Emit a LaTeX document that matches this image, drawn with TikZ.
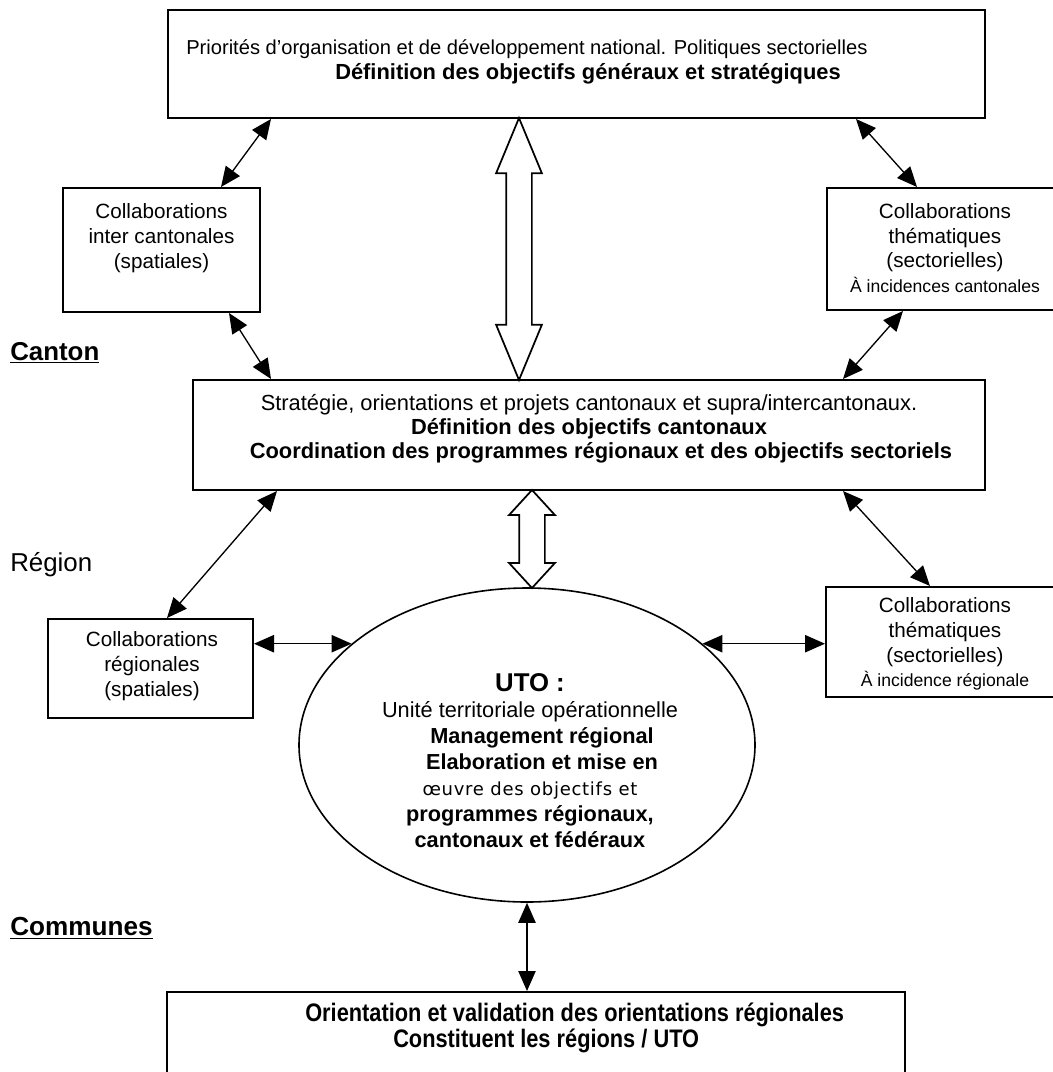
\documentclass[tikz,border=0pt]{standalone}
\usepackage{fontspec}
\setmainfont{Liberation Sans}
\newfontfamily\narrowbf[FakeStretch=0.86]{Liberation Sans Bold}
\newfontfamily\oeuvrefont[LetterSpace=4]{DejaVu Sans}
\usetikzlibrary{arrows.meta,shapes.geometric,shapes.arrows}

\newdimen\pxu \pxu=0.75pt

\tikzset{
    box/.style={draw, line width=1.5pt, inner sep=0pt},
    txt/.style={align=center, inner sep=0pt, font=\fontsize{15.5}{18.5}\selectfont},
    bigtxt/.style={txt, font=\fontsize{16.4}{18}\selectfont},
    tier/.style={anchor=west, inner sep=0pt, font=\fontsize{19.4}{22}\selectfont},
    link/.style={{Triangle[length=15pt,width=13pt]}-{Triangle[length=15pt,width=13pt]}, line width=1pt},
    hollow/.style={double arrow, draw, line width=1.3pt, rotate=90, inner xsep=0pt,
        inner ysep=12\pxu, double arrow head extend=10\pxu, minimum width=0pt},
}

\begin{document}
\begin{tikzpicture}[x=0.75pt, y=-0.75pt]
        \useasboundingbox (0,0) rectangle (1053,1072);
        \clip (0,0) rectangle (1053,1072);

        % boxes
        \node[box, minimum width=817\pxu, minimum height=108\pxu] (nat) at (576.5,64) {};
        \node[box, minimum width=197\pxu, minimum height=124\pxu] (cic) at (161.5,250) {};
        \node[box, minimum width=236\pxu, minimum height=122\pxu] (cth) at (945,249) {};
        \node[box, minimum width=792\pxu, minimum height=110\pxu] (mid) at (589,435) {};
        \node[box, minimum width=205\pxu, minimum height=99\pxu]  (reg) at (150.5,668.5) {};
        \node[box, minimum width=238\pxu, minimum height=110\pxu] (rth) at (945,642) {};
        \node[ellipse, draw, line width=1.2pt, inner sep=0pt,
              minimum width=456\pxu, minimum height=314\pxu] (uto) at (527,745) {};
        \node[box, minimum width=738\pxu, minimum height=98\pxu] (bot) at (536,1041) {};

        % texts
        \node[txt, anchor=west, align=left, font=\fontsize{15.1}{19}\selectfont] (natT) at (186,62)
            {Priorités d’organisation et de développement national. Politiques sectorielles\\
             \hspace*{149\pxu}{\fontsize{16.4}{19}\selectfont\bfseries Définition des objectifs généraux et stratégiques}};
        \node[txt] (cicT) at (161.5,238) {Collaborations\\inter cantonales\\(spatiales)};
        \node[txt] (cthT) at (945,248) {Collaborations\\thématiques\\(sectorielles)\\
            {\fontsize{13.2}{15}\selectfont À incidences cantonales}};
        \node[bigtxt] (midT) at (589,429)
            {Stratégie, orientations et projets cantonaux et supra/intercantonaux.\\
             \textbf{Définition des objectifs cantonaux}\\
             \hspace*{24\pxu}\textbf{Coordination des programmes régionaux et des objectifs sectoriels}};
        \node[txt] (regT) at (152,666) {Collaborations\\régionales\\(spatiales)};
        \node[txt] (rthT) at (945,644) {Collaborations\\thématiques\\(sectorielles)\\
            {\fontsize{13.2}{15}\selectfont À incidence régionale}};
        \node[txt, font=\fontsize{16.3}{19.5}\selectfont] (utoT) at (530,761)
            {{\fontsize{19.3}{20}\selectfont\bfseries UTO :}\\
             Unité territoriale opérationnelle\\
             \hspace*{24\pxu}\textbf{Management régional}\\
             \hspace*{24\pxu}\textbf{Elaboration et mise en}\\
             {\oeuvrefont\fontsize{13.5}{15}\selectfont œuvre des objectifs et}\\
             \textbf{programmes régionaux,}\\
             \textbf{cantonaux et fédéraux}};
        \node[txt, anchor=west, align=left, font=\fontsize{19}{20}\narrowbf] (botT) at (305,1028)
            {Orientation et validation des orientations régionales\\
             \hspace*{88\pxu}Constituent les régions / UTO};

        % levels
        \node[tier, font=\fontsize{19.4}{22}\selectfont\bfseries] (canton) at (10,353) {\underline{Canton}};
        \node[tier] (region) at (10,565) {Région};
        \node[tier, font=\fontsize{19.6}{22}\selectfont\bfseries] (communes) at (10,928) {\underline{Communes}};

        % hollow arrows
        \node[hollow, minimum height=262\pxu, double arrow tip angle=45] (flowA) at (519,249) {};
        \node[hollow, minimum height=98\pxu, double arrow tip angle=85] (flowB) at (532,539) {};

        % links
        \draw[link] ([xshift=104\pxu]nat.south west) -- ([xshift=159\pxu]cic.north west);
        \draw[link] ([xshift=167\pxu]cic.south west) -- ([xshift=79\pxu]mid.north west);
        \draw[link] ([xshift=-130\pxu]nat.south east) -- ([xshift=91\pxu]cth.north west);
        \draw[link] ([xshift=77\pxu]cth.south west) -- ([xshift=-143\pxu]mid.north east);
        \draw[link] ([xshift=85\pxu]mid.south west) -- ([xshift=120\pxu]reg.north west);
        \draw[link] ([xshift=-143\pxu]mid.south east) -- ([xshift=105\pxu]rth.north west);
        \draw[link] (reg.east |- uto.150) -- (uto.150);
        \draw[link] (uto.30) -- (uto.30 -| rth.west);
        \draw[link] (uto.south) -- (uto.south |- bot.north);
\end{tikzpicture}
\end{document}
